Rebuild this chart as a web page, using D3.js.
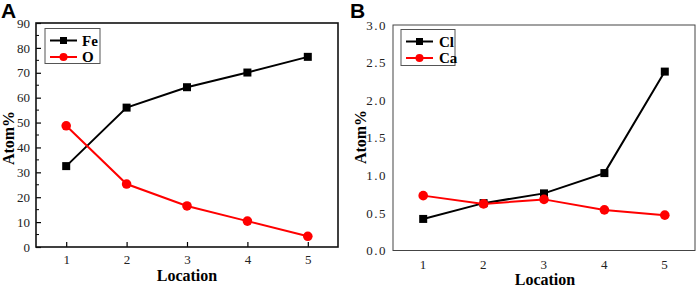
<!DOCTYPE html>
<html><head><meta charset="utf-8">
<script src="https://cdn.jsdelivr.net/npm/d3@7"></script>
<style>body{margin:0;background:#fff}svg{display:block}</style>
</head><body>
<svg id="c" width="699" height="287"></svg>
<script>
const locations = [1, 2, 3, 4, 5];
const feValues = [32.5, 56, 64.2, 70.1, 76.4];
const oValues = [48.7, 25.3, 16.5, 10.4, 4.3];
const clValues = [0.42, 0.63, 0.76, 1.03, 2.38];
const caValues = [0.73, 0.62, 0.68, 0.54, 0.47];
const yTicksA = [0, 10, 20, 30, 40, 50, 60, 70, 80, 90];
const yTicksB = [0, 0.5, 1.0, 1.5, 2.0, 2.5, 3.0];

const svg = d3.select("#c");
const serif = "'Liberation Serif','Times New Roman',serif";

function panel(cfg) {
  const g = svg.append("g");
  const x = d3.scaleLinear().domain([0.5, 5.5]).range([cfg.left, cfg.right]);
  const y = d3.scaleLinear().domain([0, cfg.ymax]).range([cfg.bottom, cfg.top]);

  const xAxis = d3.axisBottom(x).tickValues(locations).tickFormat(d3.format("d"))
    .tickSizeInner(cfg.ticks ? -5 : 0).tickSizeOuter(0).tickPadding(cfg.ticks ? 8 : 9);
  const yAxis = d3.axisLeft(y).tickValues(cfg.yTicks).tickFormat(cfg.fmt)
    .tickSizeInner(cfg.ticks ? -5 : 0).tickSizeOuter(0).tickPadding(6);
  const gx = g.append("g").attr("transform", `translate(0,${cfg.bottom})`).call(xAxis);
  const gy = g.append("g").attr("transform", `translate(${cfg.left},0)`).call(yAxis);
  [gx, gy].forEach(a => {
    a.select(".domain").remove();
    a.selectAll("text").attr("font-family", serif).attr("font-size", 13).attr("fill", "#222")
      .attr("letter-spacing", cfg.ls || 0);
    a.selectAll("line").attr("stroke", "#000").attr("stroke-width", 1.2);
  });
  if (cfg.ticks) {
    const minorY = d3.range(5, cfg.ymax, 10);
    g.append("g").selectAll("line").data(minorY).join("line")
      .attr("x1", cfg.left).attr("x2", cfg.left + 3)
      .attr("y1", d => y(d)).attr("y2", d => y(d)).attr("stroke", "#000").attr("stroke-width", 1);
  }
  g.append("rect").attr("x", cfg.left).attr("y", cfg.top)
    .attr("width", cfg.right - cfg.left).attr("height", cfg.bottom - cfg.top)
    .attr("fill", "none").attr("stroke", cfg.frameColor).attr("stroke-width", cfg.frameWidth);

  const line = d3.line().x((d, i) => x(locations[i])).y(d => y(d));
  cfg.series.forEach(s => {
    g.append("path").datum(s.values).attr("d", line).attr("fill", "none")
      .attr("stroke", s.color).attr("stroke-width", 2);
    if (s.shape === "square") {
      g.append("g").selectAll("rect").data(s.values).join("rect")
        .attr("x", (d, i) => x(locations[i]) - 4).attr("y", d => y(d) - 4)
        .attr("width", 8).attr("height", 8).attr("fill", s.color);
    } else {
      g.append("g").selectAll("circle").data(s.values).join("circle")
        .attr("cx", (d, i) => x(locations[i])).attr("cy", d => y(d)).attr("r", 4.8)
        .attr("fill", s.color);
    }
  });

  const L = cfg.legend;
  g.append("rect").attr("x", L.x).attr("y", L.y).attr("width", L.w).attr("height", L.h)
    .attr("fill", "#fff").attr("stroke", "#555").attr("stroke-width", 1);
  cfg.series.forEach((s, i) => {
    const yy = L.y + 12 + i * 16.5;
    g.append("line").attr("x1", L.x + 5).attr("x2", L.x + 32).attr("y1", yy).attr("y2", yy)
      .attr("stroke", s.color).attr("stroke-width", 2);
    const cx = L.x + 18.5;
    if (s.shape === "square") g.append("rect").attr("x", cx - 3.5).attr("y", yy - 3.5).attr("width", 7).attr("height", 7).attr("fill", s.color);
    else g.append("circle").attr("cx", cx).attr("cy", yy).attr("r", 4).attr("fill", s.color);
    g.append("text").attr("x", L.x + L.tx).attr("y", yy + 5).text(s.name)
      .attr("font-family", serif).attr("font-weight", "bold").attr("font-size", 15).attr("fill", "#000");
  });

  g.append("text").attr("x", (cfg.left + cfg.right) / 2 + cfg.xtOff).attr("y", cfg.xtY)
    .attr("text-anchor", "middle").text("Location")
    .attr("font-family", serif).attr("font-weight", "bold").attr("font-size", 16);
  g.append("text").attr("transform", `translate(${cfg.ytX},${cfg.ytY}) rotate(-90)`)
    .attr("text-anchor", "middle").text("Atom%")
    .attr("font-family", serif).attr("font-weight", "bold").attr("font-size", 16);
  g.append("text").attr("x", cfg.lx).attr("y", 18).text(cfg.letter)
    .attr("font-family", "'Liberation Sans',Arial,sans-serif").attr("font-weight", "bold").attr("font-size", 21);
}

panel({
  left: 36, right: 338, top: 23, bottom: 247, ymax: 90, yTicks: yTicksA, fmt: d3.format("d"),
  ticks: true, frameColor: "#111", frameWidth: 1.6,
  series: [
    {name: "Fe", values: feValues, color: "#000", shape: "square"},
    {name: "O", values: oValues, color: "#ff0000", shape: "circle"}
  ],
  legend: {x: 45, y: 28.5, w: 55, h: 35, tx: 37},
  xtOff: 0, xtY: 281, ytX: 14, ytY: 138, lx: 1, letter: "A"
});
panel({
  left: 393, right: 695, top: 25, bottom: 250.5, ymax: 3.0, yTicks: yTicksB, fmt: d3.format(".1f"),
  ticks: false, frameColor: "#444", frameWidth: 1, ls: 1.5,
  series: [
    {name: "Cl", values: clValues, color: "#000", shape: "square"},
    {name: "Ca", values: caValues, color: "#ff0000", shape: "circle"}
  ],
  legend: {x: 401, y: 29.5, w: 54, h: 36, tx: 38},
  xtOff: 1, xtY: 284.5, ytX: 366, ytY: 137, lx: 350, letter: "B"
});
</script>
</body></html>
